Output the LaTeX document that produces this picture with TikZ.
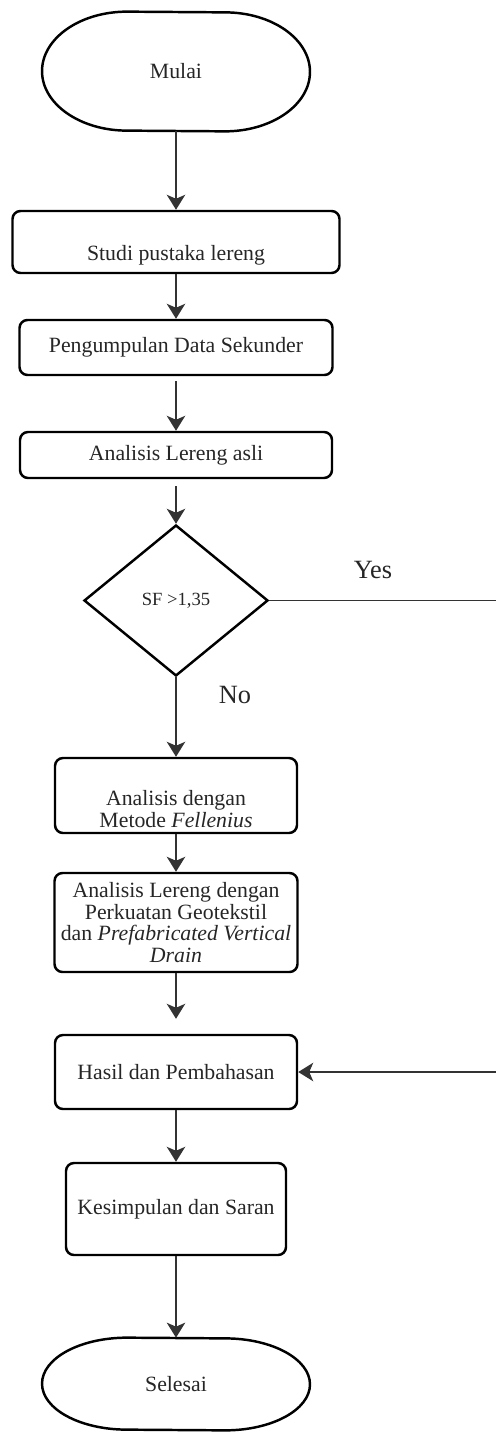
\documentclass[tikz,border=0pt]{standalone}
\usepackage{fontspec}
\setmainfont{Liberation Serif}
\usetikzlibrary{shapes.geometric, arrows.meta}

\newdimen\px
\px=0.02cm % one pixel of the original drawing

\begin{document}
\begin{tikzpicture}[x=\px, y=-\px,
	txt/.style={font=\fontsize{12.4}{12.4}\selectfont, text=black!85},
	box/.style={txt, draw, rounded corners=8\px, line width=1.4pt, align=center, inner sep=2\px},
	term/.style={txt, minimum width=268\px, inner sep=0pt},
	lbl/.style={font=\fontsize{15}{15}\selectfont, text=black!85},
	conn/.style={draw=black!80, line width=0.8pt, -{Stealth[length=0.3cm, width=0.37cm, inset=0.08cm]}}]

	\useasboundingbox (0,0) rectangle (496,1432);

	% start and end
	\node[term, minimum height=119\px] (mulai) at (176,71.5) {Mulai};
	\node[term, minimum height=92\px] (selesai) at (176,1384) {Selesai};
	\foreach \t/\h in {mulai/1.19cm, selesai/0.92cm}
		\draw[line width=1.4pt] ([xshift=-49\px]\t.north) arc[start angle=90, end angle=270, x radius=1.7cm, y radius=\h] -- ([xshift=49\px]\t.south) arc[start angle=-90, end angle=90, x radius=1.7cm, y radius=\h] -- cycle;

	% steps
	\node[box, minimum width=327\px, minimum height=62\px] (studi) at (176,242) {\strut\\[3pt]Studi pustaka lereng};
	\node[box, minimum width=313\px, minimum height=55\px] (kumpul) at (176,347.5) {Pengumpulan Data Sekunder};
	\node[box, minimum width=312\px, minimum height=46\px] (asli) at (176,455) {Analisis Lereng asli};
	\node[draw, diamond, minimum width=184\px, minimum height=151\px, inner sep=0pt, line width=1.4pt,
		font=\fontsize{10.6}{12}\selectfont, text=black!85] (sf) at (176,600.5) {SF >1,35};
	\node[box, minimum width=242\px, minimum height=75\px] (fell) at (176,795.5) {\strut\\[3pt]Analisis dengan\\Metode \textit{Fellenius}};
	\node[box, minimum width=243\px, minimum height=99\px] (geo) at (176,922.5) {Analisis Lereng dengan\\Perkuatan Geotekstil\\dan \textit{Prefabricated Vertical}\\\textit{Drain}};
	\node[box, minimum width=242\px, minimum height=74\px] (hasil) at (176,1072) {Hasil dan Pembahasan};
	\node[box, minimum width=220\px, minimum height=92\px] (simpul) at (176,1209) {Kesimpulan dan Saran};

	\node[lbl] (yes) at (373,570) {Yes};
	\node[lbl] (no) at (235,695) {No};
	\coordinate (yesturn) at (500,600.5);

	% connectors
	\draw[conn] (mulai) -- (studi);
	\draw[conn] (studi) -- (kumpul);
	\draw[conn, shorten <=0.1cm] (kumpul) -- (asli);
	\draw[conn, shorten <=0.14cm] (asli) -- (sf);
	\draw[conn] (sf) -- (fell);
	\draw[conn] (fell) -- (geo);
	\draw[conn, shorten >=0.3cm] (geo) -- (hasil);
	\draw[conn] (hasil) -- (simpul);
	\draw[conn] (simpul) -- (selesai);
	\draw[conn] (sf.east) -- (yesturn) |- (hasil.east);

\end{tikzpicture}
\end{document}
